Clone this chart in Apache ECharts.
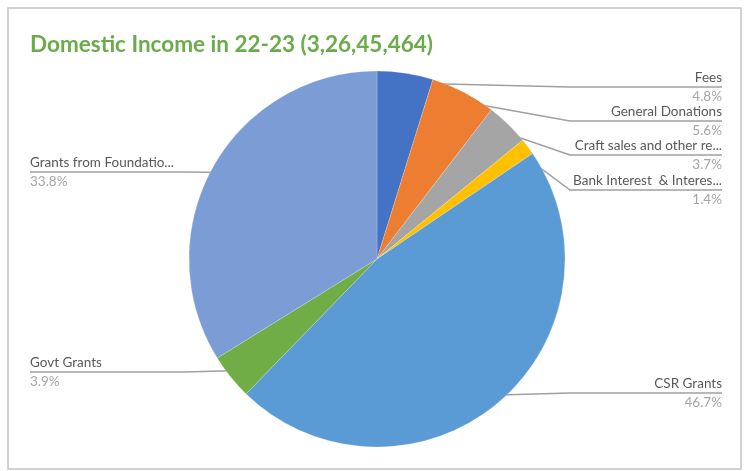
<!DOCTYPE html>
<html><head><meta charset="utf-8">
<script src="https://cdn.jsdelivr.net/npm/echarts@6/dist/echarts.min.js"></script>
<style>html,body{margin:0;padding:0;background:#fff}#c{width:749px;height:471px}</style>
</head><body><div id="c"></div>
<script>
// ---- data ----
const categories = ['Fees', 'General Donations', 'Craft sales and other re...', 'Bank Interest  & Interes...', 'CSR Grants', 'Govt Grants', 'Grants from Foundatio...'];
const shares = [4.8, 5.6, 3.7, 1.4, 46.7, 3.9, 33.8]; // percent of 3,26,45,464
const titleText = 'Domestic Income in 22-23 (3,26,45,464)';

// ---- style / layout ----
const sliceColors = ['#4472C4', '#ED7D31', '#A5A5A5', '#FFC000', '#5B9BD5', '#70AD47', '#7C9CD6'];
const labelLineY = [87, 121, 155, 190, 393, 372, 172];
const CX = 377, CY = 259, R = 188;
const RIGHT_EDGE = 722, LEFT_EDGE = 30, ELBOW_R = 570, ELBOW_L = 185;

const total = shares.reduce((a, b) => a + b, 0);
const midAngles = [];
let cum = 0;
shares.forEach(v => { midAngles.push((90 - (cum + v / 2) / total * 360) * Math.PI / 180); cum += v; });

const chart = echarts.init(document.getElementById('c'));
chart.setOption({
  animation: false,
  backgroundColor: '#fff',
  graphic: [{
    type: 'rect', shape: { x: 8, y: 8, width: 733, height: 461 },
    style: { fill: 'none', stroke: '#C4C4C4', lineWidth: 1.5 }, silent: true
  }],
  title: {
    text: titleText, left: 25, top: 28,
    textStyle: { fontFamily: 'Lato', fontWeight: 'bold', fontSize: 22.5, color: '#6AAB4A' }
  },
  series: [{
    type: 'pie',
    center: [CX, CY],
    radius: R,
    startAngle: 90,
    clockwise: true,
    avoidLabelOverlap: false,
    data: categories.map((n, i) => ({ name: n, value: shares[i], itemStyle: { color: sliceColors[i] } })),
    itemStyle: { borderColor: 'rgba(255,255,255,0.4)', borderWidth: 0.5 },
    label: {
      show: true, position: 'outside',
      formatter: p => '{n|' + p.name + '}\n{p|' + shares[p.dataIndex].toFixed(1) + '%}',
      rich: {
        n: { fontFamily: 'Lato', fontSize: 13.5, color: '#595959', lineHeight: 19 },
        p: { fontFamily: 'Lato', fontSize: 13.5, color: '#A6A6A6', lineHeight: 19 }
      }
    },
    labelLine: { show: true, length: 10, length2: 10, smooth: false, lineStyle: { color: '#A0A0A0', width: 1.5 } },
    labelLayout: function (p) {
      const i = p.dataIndex;
      const a = midAngles[i];
      const ax = CX + Math.cos(a) * (R - 10), ay = CY - Math.sin(a) * (R - 10);
      const right = Math.cos(a) >= 0;
      const y = labelLineY[i];
      const ex = right ? Math.max(ax, ELBOW_R) : Math.min(ax, ELBOW_L);
      return {
        x: right ? RIGHT_EDGE : LEFT_EDGE,
        y: y,
        align: right ? 'right' : 'left',
        verticalAlign: 'middle',
        labelLinePoints: [[ax, ay], [ex, y], [right ? RIGHT_EDGE : LEFT_EDGE, y]]
      };
    }
  }]
});
</script></body></html>
